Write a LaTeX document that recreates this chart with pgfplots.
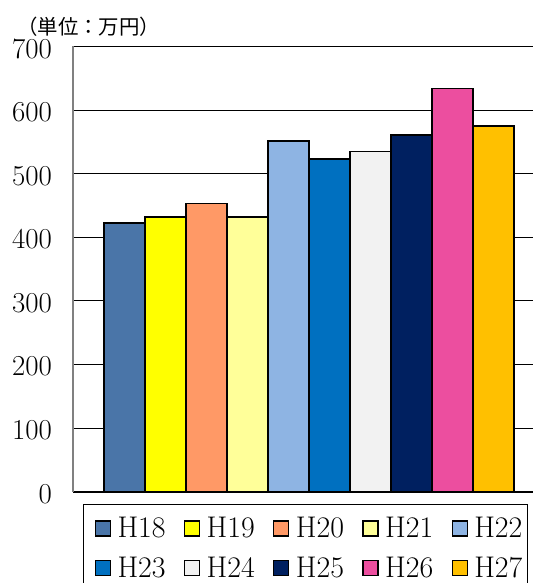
\documentclass[border=0pt]{standalone}
\usepackage{pgfplots}
\pgfplotsset{compat=1.18}
\usepackage{fontspec}
\newfontfamily\cjk{Noto Sans CJK JP}
\definecolor{cH18}{HTML}{4A75A8}
\definecolor{cH19}{HTML}{FFFF00}
\definecolor{cH20}{HTML}{FF9966}
\definecolor{cH21}{HTML}{FFFF99}
\definecolor{cH22}{HTML}{8EB4E3}
\definecolor{cH23}{HTML}{0070C0}
\definecolor{cH24}{HTML}{F2F2F2}
\definecolor{cH25}{HTML}{002060}
\definecolor{cH26}{HTML}{EC4E9F}
\definecolor{cH27}{HTML}{FFC000}
\pgfplotsset{
  mybar/.style={fill=#1, draw=black, line width=1.8pt, bar shift=0pt, bar width=1,
    legend image code/.code={\path (-6bp,0bp); \draw[fill=#1, draw=black, line width=1.1pt] (0bp,-7.5bp) rectangle (15bp,7.5bp);}},
}
\begin{document}
\begin{tikzpicture}
\useasboundingbox (0,0) rectangle (533bp,583bp);
\clip (0,0) rectangle (533bp,583bp);
\node[anchor=west, inner sep=0pt, font=\cjk\fontsize{20.5}{25}\selectfont] at (17bp,556bp) {（単位：万円）};
\begin{axis}[
  at={(73bp,91.3bp)}, anchor=south west,
  scale only axis, width=470bp, height=445.2bp,
  xmin=-1.263, xmax=10.2, ymin=0, ymax=700,
  ybar,
  ytick={0,100,...,700}, xtick=\empty,
  major tick length=0pt,
  axis x line*=bottom, axis y line*=left,
  x axis line style={black, line width=1.8pt},
  y axis line style={black!50, line width=2pt},
  ymajorgrids, grid style={black, line width=0.9pt},
  /pgf/number format/assume math mode=true,
  yticklabel style={font=\fontsize{29}{32}\selectfont, inner sep=0pt, xshift=-21bp, yshift=-2bp},
  legend columns=5,
  legend style={at={(axis description cs:0.0213,-0.0276)}, anchor=north west,
    draw=black, line width=1.1pt, inner xsep=5bp, inner ysep=10bp,
    font=\fontsize{30}{34}\selectfont,
    nodes={inner xsep=0bp, inner ysep=3bp},
    row sep=12bp,
    /tikz/every odd column/.append style={column sep=6.5bp},
    /tikz/every even column/.append style={column sep=12.1bp},
    cells={anchor=west}},
]
\addplot[mybar=cH18] coordinates {(0,423)};
\addplot[mybar=cH19] coordinates {(1,432)};
\addplot[mybar=cH20] coordinates {(2,453)};
\addplot[mybar=cH21] coordinates {(3,432)};
\addplot[mybar=cH22] coordinates {(4,552)};
\addplot[mybar=cH23] coordinates {(5,523)};
\addplot[mybar=cH24] coordinates {(6,535)};
\addplot[mybar=cH25] coordinates {(7,561)};
\addplot[mybar=cH26] coordinates {(8,634)};
\addplot[mybar=cH27] coordinates {(9,575)};
\legend{H18,H19,H20,H21,H22,H23,H24,H25,H26,H27}
\end{axis}
\end{tikzpicture}
\end{document}
